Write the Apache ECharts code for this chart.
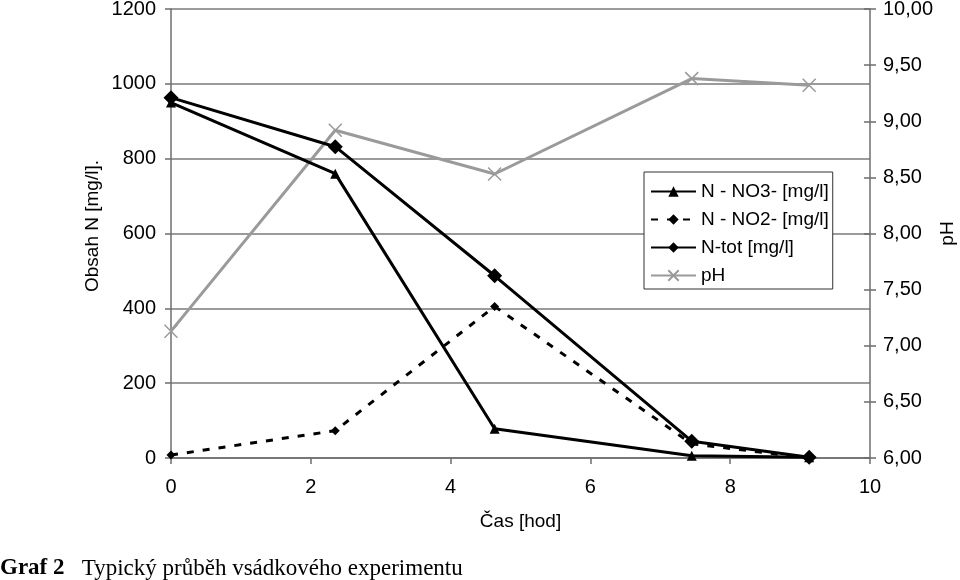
<!DOCTYPE html>
<html>
<head>
<meta charset="utf-8">
<script src="https://cdn.jsdelivr.net/npm/echarts@6/dist/echarts.min.js"></script>
<style>html,body{margin:0;padding:0;background:#fff}#c{width:960px;height:580px}</style>
</head>
<body>
<div id="c"></div>
<script>
var times = [0, 2.35, 4.63, 7.45, 9.13];
var no3 = [950, 760, 78, 6, 2];
var no2 = [8, 73, 405, 38, 0];
var ntot = [963, 832, 487, 45, 2];
var ph = [7.13, 8.92, 8.53, 9.38, 9.32];
var seriesNames = ['N - NO3- [mg/l]', 'N - NO2- [mg/l]', 'N-tot [mg/l]', 'pH'];
var xTicks = [0, 2, 4, 6, 8, 10];

function pairs(v){ return times.map(function(t,i){ return [t, v[i]]; }); }
var F = 'Liberation Sans, Arial, sans-serif';
var axisCol = '#6e6e6e';
var FS = 19;
var AFS = 20;
var chart = echarts.init(document.getElementById('c'), null, {renderer:'canvas'});
chart.setOption({
  animation: false,
  backgroundColor: '#fff',
  title: {
    text: '{b|Graf 2}   Typický průběh vsádkového experimentu',
    left: -5, top: 552,
    textStyle: {fontFamily: 'Liberation Serif, Times New Roman, serif', fontSize: 23, fontWeight: 'normal', color: '#000',
      rich: {b: {fontFamily: 'Liberation Serif, Times New Roman, serif', fontSize: 23, fontWeight: 'bold', color: '#000'}}}
  },
  grid: {left: 171, right: 90, top: 9, bottom: 122, outerBoundsMode: 'none', containLabel: false},
  legend: {
    orient: 'vertical', left: 644, top: 172,
    padding: [10, 4, 4, 6],
    borderColor: '#333', borderWidth: 1, backgroundColor: '#fff',
    itemWidth: 45, itemHeight: 13, itemGap: 9,
    textStyle: {fontFamily: F, fontSize: FS, color: '#000'},
    data: seriesNames
  },
  xAxis: {
    type: 'value', min: 0, max: 10, interval: 2,
    name: 'Čas [hod]', nameLocation: 'middle', nameGap: 54,
    nameTextStyle: {fontFamily: F, fontSize: FS, color: '#000'},
    axisLine: {show: true, lineStyle: {color: axisCol, width: 1.5}},
    axisTick: {show: true, length: 6, lineStyle: {color: axisCol, width: 1.5}},
    axisLabel: {fontFamily: F, fontSize: AFS, color: '#000', margin: 19,
      formatter: function(v){ return xTicks.indexOf(v) >= 0 ? String(v) : ''; }},
    splitLine: {show: false}
  },
  yAxis: [{
    type: 'value', min: 0, max: 1200, interval: 200, position: 'left',
    name: 'Obsah N [mg/l].', nameLocation: 'middle', nameGap: 69, nameRotate: 90, nameMoveOverlap: false,
    nameTextStyle: {fontFamily: F, fontSize: FS, color: '#000', padding: [0, 0, 0, 15]},
    axisLine: {show: true, lineStyle: {color: axisCol, width: 1.5}},
    axisTick: {show: true, length: 6, lineStyle: {color: axisCol, width: 1.5}},
    axisLabel: {fontFamily: F, fontSize: AFS, color: '#000', margin: 15,
      formatter: function(v){ return String(v); }},
    splitLine: {show: true, lineStyle: {color: '#7a7a7a', width: 1.5}}
  }, {
    type: 'value', min: 6, max: 10, interval: 0.5, position: 'right',
    name: 'pH', nameLocation: 'middle', nameGap: 68, nameRotate: 90, nameMoveOverlap: false,
    nameTextStyle: {fontFamily: F, fontSize: FS, color: '#000'},
    axisLine: {show: true, lineStyle: {color: axisCol, width: 1.5}},
    axisTick: {show: true, length: 6, lineStyle: {color: axisCol, width: 1.5}},
    axisLabel: {fontFamily: F, fontSize: AFS, color: '#000', margin: 13,
      formatter: function(v){ return v.toFixed(2).replace('.', ','); }},
    splitLine: {show: false}
  }, {
    type: 'value', min: 6, max: 10, interval: 0.5, position: 'right',
    axisLine: {show: false},
    axisTick: {show: true, inside: true, length: 6, lineStyle: {color: axisCol, width: 1.5}},
    axisLabel: {show: false}, splitLine: {show: false}
  }],
  series: [{
    name: seriesNames[0], type: 'line', yAxisIndex: 0, data: pairs(no3),
    symbol: 'triangle', symbolSize: 10, z: 3,
    lineStyle: {color: '#000', width: 3}, itemStyle: {color: '#000'}
  }, {
    name: seriesNames[1], type: 'line', yAxisIndex: 0, data: pairs(no2),
    symbol: 'diamond', symbolSize: 9, z: 3,
    lineStyle: {color: '#000', width: 3, type: [7, 9]}, itemStyle: {color: '#000'}
  }, {
    name: seriesNames[2], type: 'line', yAxisIndex: 0, data: pairs(ntot),
    symbol: 'diamond', symbolSize: 15, z: 4,
    lineStyle: {color: '#000', width: 3}, itemStyle: {color: '#000'}
  }, {
    name: seriesNames[3], type: 'line', yAxisIndex: 1, data: pairs(ph),
    symbol: 'path://M0,0L10,10M10,0L0,10', symbolSize: 13, z: 2,
    lineStyle: {color: '#9a9a9a', width: 3},
    itemStyle: {color: 'rgba(0,0,0,0)', borderColor: '#9a9a9a', borderWidth: 1.5}
  }]
});
</script>
</body>
</html>
